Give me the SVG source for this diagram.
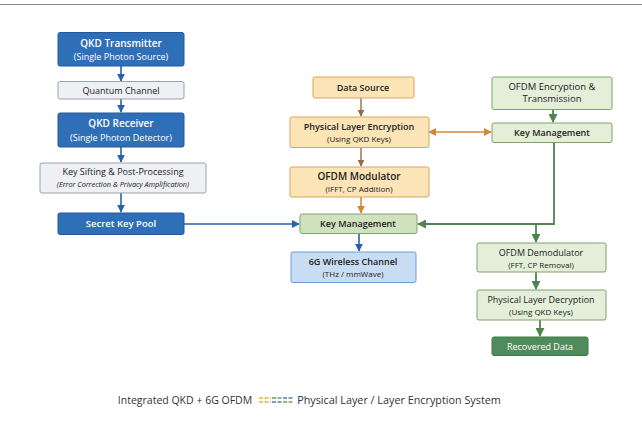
<svg xmlns="http://www.w3.org/2000/svg" width="642" height="432" viewBox="0 0 642 432">
<defs>
<style>
text{font-family:"Open Sans","Noto Sans","DejaVu Sans",sans-serif;text-anchor:middle}
.t{font-size:9.5px;font-weight:600}
.s{font-size:8px}
.w{fill:#ffffff}
.d{fill:#222222}
.blue{fill:#2f6fb7;stroke:#24589a;stroke-width:1}
.gray{fill:#eef0f4;stroke:#9aa3ad;stroke-width:1}
.org{fill:#fbe4b6;stroke:#d7a65e;stroke-width:1}
.grn{fill:#cfe2bd;stroke:#7ea56a;stroke-width:1}
.lgrn{fill:#e3efd9;stroke:#7fa36c;stroke-width:1}
.lblue{fill:#c8ddf3;stroke:#6f9fd0;stroke-width:1}
.dgrn{fill:#4f8b5b;stroke:#3f7a4b;stroke-width:1}
.cb{stroke:#2a62a8;stroke-width:1.6;fill:none}
.co{stroke:#d4873a;stroke-width:1.6;fill:none}
.cg{stroke:#4d8450;stroke-width:1.8;fill:none}
.cbr{stroke:#9a6a44;stroke-width:1.4;fill:none}
</style>
<marker id="ab" viewBox="0 0 10 10" refX="9" refY="5" markerWidth="5" markerHeight="5" orient="auto-start-reverse"><path d="M0,0L10,5L0,10z" fill="#2a62a8"/></marker>
<marker id="ao" viewBox="0 0 10 10" refX="9" refY="5" markerWidth="5" markerHeight="5" orient="auto-start-reverse"><path d="M0,0L10,5L0,10z" fill="#d4873a"/></marker>
<marker id="ag" viewBox="0 0 10 10" refX="9" refY="5" markerWidth="5" markerHeight="5" orient="auto-start-reverse"><path d="M0,0L10,5L0,10z" fill="#4d8450"/></marker>
<marker id="abr" viewBox="0 0 10 10" refX="9" refY="5" markerWidth="5" markerHeight="5" orient="auto-start-reverse"><path d="M0,0L10,5L0,10z" fill="#9a6a44"/></marker>
</defs>
<rect x="0" y="0" width="642" height="432" fill="#ffffff"/>
<line x1="0" y1="4.5" x2="642" y2="4.5" stroke="#8a8a8a" stroke-width="1.2"/>

<g id="connectors">
<line class="cb" x1="121" y1="66" x2="121" y2="81" marker-end="url(#ab)"/>
<line class="cb" x1="121" y1="99" x2="121" y2="112" marker-end="url(#ab)"/>
<line class="cb" x1="121" y1="147" x2="121" y2="162" marker-end="url(#ab)"/>
<line class="cb" x1="121" y1="193" x2="121" y2="212" marker-end="url(#ab)"/>
<line class="cb" x1="184" y1="224" x2="299" y2="224" marker-end="url(#ab)"/>
<line class="cbr" x1="361" y1="98" x2="361" y2="116" marker-end="url(#abr)"/>
<line class="cbr" x1="361" y1="147" x2="361" y2="166" marker-end="url(#abr)"/>
<line class="co" x1="361" y1="197" x2="361" y2="213" marker-end="url(#ao)"/>
<line class="co" x1="429" y1="132" x2="491" y2="132" marker-start="url(#ao)" marker-end="url(#ao)"/>
<line class="cb" x1="359" y1="233" x2="359" y2="251" marker-end="url(#ab)"/>
<line class="cg" x1="553" y1="109" x2="553" y2="122" marker-end="url(#ag)"/>
<polyline class="cg" points="554,143 554,224 418,224" marker-end="url(#ag)"/>
<line class="cg" x1="536" y1="224" x2="536" y2="242" marker-end="url(#ag)"/>
<line class="cg" x1="536" y1="272" x2="536" y2="289" marker-end="url(#ag)"/>
<line class="cg" x1="540" y1="320" x2="540" y2="336" marker-end="url(#ag)"/>
</g>

<g id="qkd-transmitter"><rect class="blue" x="58" y="32.5" width="126" height="33.5" rx="2"/><text class="t w" x="121" y="47" style="font-size:10px">QKD Transmitter</text><text class="s w" x="121" y="60" style="font-size:9px">(Single Photon Source)</text></g>
<g id="quantum-channel"><rect class="gray" x="58" y="81.5" width="126" height="17.5" rx="2"/><text class="s d" x="121" y="93.5" style="font-size:9px">Quantum Channel</text></g>
<g id="qkd-receiver"><rect class="blue" x="58" y="113" width="126" height="34" rx="2"/><text class="t w" x="121" y="127" style="font-size:10px">QKD Receiver</text><text class="s w" x="121" y="140.5" style="font-size:9px">(Single Photon Detector)</text></g>
<g id="key-sifting"><rect class="gray" x="40" y="163" width="166" height="30" rx="2"/><text class="s d" x="123" y="175" style="font-size:9px">Key Sifting &amp; Post-Processing</text><text class="s d" x="123" y="187" style="font-size:7.3px;font-style:italic">(Error Correction &amp; Privacy Amplification)</text></g>
<g id="secret-key-pool"><rect class="blue" x="58" y="213" width="126" height="21.5" rx="2"/><text class="t w" x="121" y="227" style="font-size:9.5px">Secret Key Pool</text></g>

<g id="data-source"><rect class="org" x="313" y="77" width="101" height="21" rx="2"/><text class="t d" x="363" y="91" style="font-size:9px">Data Source</text></g>
<g id="phy-encryption"><rect class="org" x="290" y="117" width="139" height="30.5" rx="2"/><text class="t d" x="359" y="130" style="font-size:9px">Physical Layer Encryption</text><text class="s d" x="359" y="142" style="font-size:8px">(Using QKD Keys)</text></g>
<g id="ofdm-modulator"><rect class="org" x="290" y="167" width="139" height="30" rx="2"/><text class="t d" x="359" y="180" style="font-size:10px">OFDM Modulator</text><text class="s d" x="359" y="192" style="font-size:8px">(IFFT, CP Addition)</text></g>
<g id="key-management-mid"><rect class="grn" x="300" y="214" width="117" height="19.5" rx="2"/><text class="t d" x="358" y="227" style="font-size:9px">Key Management</text></g>
<g id="wireless-channel"><rect class="lblue" x="291" y="252" width="125" height="30.5" rx="2"/><text class="t d" x="353" y="265" style="font-size:9px">6G Wireless Channel</text><text class="s d" x="353" y="277" style="font-size:8px">(THz / mmWave)</text></g>

<g id="ofdm-enc-trans"><rect class="lgrn" x="492" y="77" width="120" height="32.5" rx="2"/><text class="t d" x="552" y="90" style="font-size:9.5px;font-weight:500">OFDM Encryption &amp;</text><text class="t d" x="552" y="102" style="font-size:9.5px;font-weight:500">Transmission</text></g>
<g id="key-management-right"><rect class="lgrn" x="492" y="123" width="120" height="19.5" rx="2"/><text class="t d" x="552" y="136" style="font-size:9px">Key Management</text></g>
<g id="ofdm-demodulator"><rect class="lgrn" x="477" y="243" width="129" height="29" rx="2"/><text class="t d" x="541" y="256" style="font-size:9px;font-weight:500">OFDM Demodulator</text><text class="s d" x="541" y="268" style="font-size:8px">(FFT, CP Removal)</text></g>
<g id="phy-decryption"><rect class="lgrn" x="477" y="290" width="129" height="30" rx="2"/><text class="t d" x="541" y="303" style="font-size:9px;font-weight:500">Physical Layer Decryption</text><text class="s d" x="541" y="315" style="font-size:8px">(Using QKD Keys)</text></g>
<g id="recovered-data"><rect class="dgrn" x="492" y="337" width="96" height="18.5" rx="2"/><text class="t w" x="540" y="349.5" style="font-size:9px;font-weight:500">Recovered Data</text></g>

<g id="caption">
<text x="185" y="404" style="font-size:10.5px;fill:#333">Integrated QKD + 6G OFDM</text>
<g stroke-width="1.6" stroke-dasharray="4 1.5">
<line x1="259" y1="398" x2="271" y2="398" stroke="#e3b33a"/>
<line x1="259" y1="402" x2="271" y2="402" stroke="#e3b33a"/>
<line x1="272" y1="398" x2="282" y2="398" stroke="#6fa35a"/>
<line x1="272" y1="402" x2="282" y2="402" stroke="#4a82c0"/>
<line x1="283" y1="398" x2="293" y2="398" stroke="#4a82c0"/>
<line x1="283" y1="402" x2="293" y2="402" stroke="#6fa35a"/>
</g>
<text x="399" y="404" style="font-size:10.8px;fill:#333">Physical Layer / Layer Encryption System</text>
</g>
</svg>
